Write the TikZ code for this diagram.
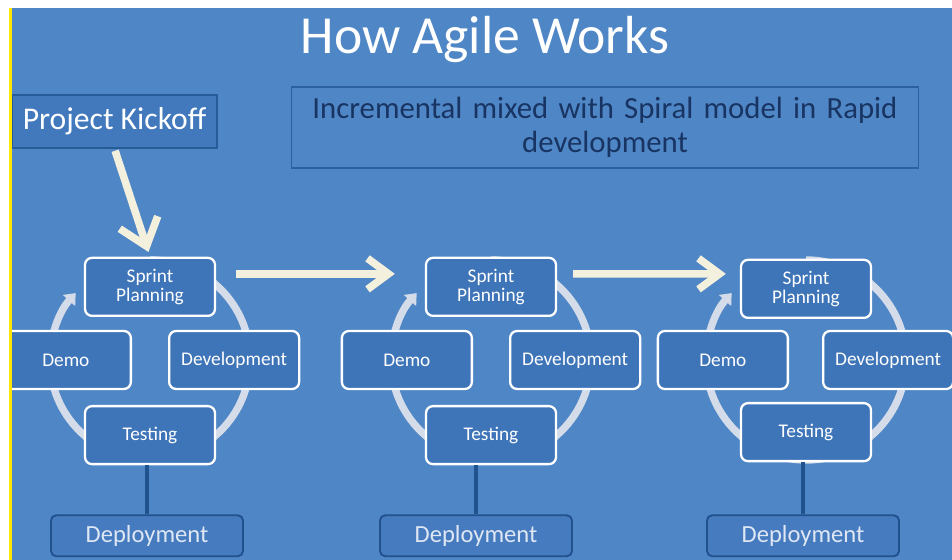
\documentclass[tikz,border=0pt]{standalone}
\usepackage{fontspec}
\setmainfont{Carlito}
\usetikzlibrary{positioning,arrows.meta}
\definecolor{slide}{RGB}{79,134,198}
\definecolor{boxfill}{RGB}{62,116,184}
\definecolor{depfill}{RGB}{70,123,191}
\definecolor{depline}{RGB}{32,82,142}
\definecolor{deptext}{RGB}{222,231,243}
\definecolor{kickfill}{RGB}{66,121,189}
\definecolor{kickline}{RGB}{40,92,152}
\definecolor{subline}{RGB}{45,96,158}
\definecolor{subtext}{RGB}{24,52,98}
\definecolor{cream}{RGB}{244,240,222}
\definecolor{ringgrey}{RGB}{212,220,233}
\definecolor{edgeyellow}{RGB}{255,230,0}

\begin{document}
\begin{tikzpicture}[node distance=1cm,
    stepbox/.style={draw=white,line width=1.3pt,fill=boxfill,rounded corners=4pt,
      minimum width=2.6cm,minimum height=1.16cm,align=center,text=white,
      font=\fontsize{11}{11}\selectfont},
    depbox/.style={draw=depline,line width=1.1pt,fill=depfill,rounded corners=3pt,
      minimum width=3.84cm,minimum height=0.82cm,text=deptext,
      font=\fontsize{14}{16}\selectfont},
    flow/.style={draw=cream,line width=4.3pt,-{Straight Barb[length=0.42cm,width=0.62cm]}},
    ring/.style={draw=ringgrey,line width=4.2pt,-{Triangle[length=0.2cm,width=0.32cm]}},
    link/.style={draw=depline,line width=2.4pt}]
  % slide
  \fill[white] (0,0) rectangle (19.04,11.2);
  \fill[slide] (0.24,0) rectangle (19.04,11.04);
  \fill[edgeyellow] (0.18,0) rectangle (0.24,11.04);
  \begin{scope}
    \clip (0.24,0) rectangle (19.04,11.04);
    \node[text=white,font=\fontsize{30.5}{32}\selectfont] (title) at (9.7,10.4) {How Agile Works};
    \node[draw=kickline,line width=1pt,fill=kickfill,minimum width=4.1cm,minimum height=1.06cm,
      text=white,font=\fontsize{18}{20}\selectfont] (kick) at (2.29,8.77) {Project Kickoff};
    \node[draw=subline,line width=0.6pt,fill=slide,minimum width=12.4cm,minimum height=1.62cm,
      text width=12.3cm,align=center,text=subtext,font=\fontsize{17.5}{19.4}\selectfont]
      (sub) at (12.1,8.65) {Incremental mixed with Spiral model in Rapid\\development};

    % cycle centres
    \coordinate (c1) at (3.0,4.0);
    \coordinate[right=6.82cm of c1] (c2);
    \coordinate[right=6.3cm of c2] (c3);

    % rings
    \draw[ring] ([shift={(90:2cm)}]c1) arc[start angle=90,end angle=-222,radius=2cm];
    \draw[ring] ([shift={(90:2cm)}]c2) arc[start angle=90,end angle=-222,radius=2cm];
    \draw[ring] ([shift={(90:2cm)}]c3) arc[start angle=90,end angle=-222,radius=2cm];

    % first sprint
    \node[stepbox] (sp1)   [above=0.86cm of c1] {Sprint\\Planning};
    \node[stepbox] (dev1)  [right=0.36cm of c1] {Development};
    \node[stepbox] (test1) [below=0.9cm of c1]  {Testing};
    \node[stepbox] (demo1) [left=0.36cm of c1]  {Demo};
    \node[depbox]  (dep1)  [below=0.98cm of test1,xshift=-0.06cm] {Deployment};

    % second sprint
    \node[stepbox] (sp2)   [above=0.86cm of c2] {Sprint\\Planning};
    \node[stepbox] (dev2)  [right=0.36cm of c2] {Development};
    \node[stepbox] (test2) [below=0.9cm of c2]  {Testing};
    \node[stepbox] (demo2) [left=0.36cm of c2]  {Demo};
    \node[depbox]  (dep2)  [below=0.98cm of test2,xshift=-0.3cm] {Deployment};

    % third sprint
    \node[stepbox] (sp3)   [above=0.82cm of c3] {Sprint\\Planning};
    \node[stepbox] (dev3)  [right=0.32cm of c3] {Development};
    \node[stepbox] (test3) [below=0.84cm of c3] {Testing};
    \node[stepbox] (demo3) [left=0.34cm of c3]  {Demo};
    \node[depbox]  (dep3)  [below=1.04cm of test3,xshift=-0.06cm] {Deployment};

    \draw[link] (test1.south -| dep1.north) -- (dep1.north);
    \draw[link] (test2.south -| dep2.north) -- (dep2.north);
    \draw[link] (test3.south -| dep3.north) -- (dep3.north);

    \draw[flow,shorten <=0.04cm,shorten >=0.1cm,
      -{Straight Barb[length=0.5cm,width=0.8cm]}] (kick.south) -- (sp1.north);
    \draw[flow,shorten <=0.4cm,shorten >=0.6cm] ([yshift=0.26cm]sp1.east) -- ([yshift=0.26cm]sp2.west);
    \draw[flow,shorten <=0.32cm,shorten >=0.28cm] ([yshift=0.26cm]sp2.east) -- ([yshift=0.3cm]sp3.west);
  \end{scope}
\end{tikzpicture}
\end{document}
